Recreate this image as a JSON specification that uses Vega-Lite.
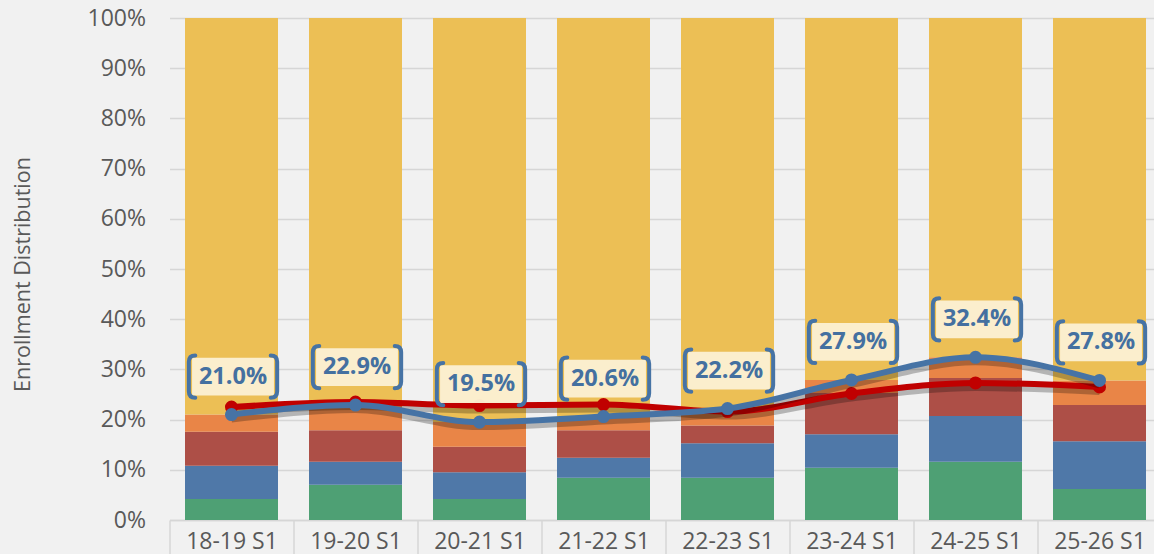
{
  "$schema": "https://vega.github.io/schema/vega-lite/v6.json",
  "width": 992,
  "height": 502,
  "autosize": {"type": "none"},
  "padding": {"left": 169.5, "top": 18, "right": 0, "bottom": 34},
  "background": "#f1f1f1",
  "config": {"view": {"stroke": null}, "font": "Open Sans"},
  "datasets": {
    "bars": [
      {"term": "18-19 S1", "segment": "A", "ord": 1, "value": 0.042},
      {"term": "18-19 S1", "segment": "B", "ord": 2, "value": 0.066},
      {"term": "18-19 S1", "segment": "C", "ord": 3, "value": 0.068},
      {"term": "18-19 S1", "segment": "D", "ord": 4, "value": 0.034},
      {"term": "18-19 S1", "segment": "E", "ord": 5, "value": 0.790},
      {"term": "19-20 S1", "segment": "A", "ord": 1, "value": 0.070},
      {"term": "19-20 S1", "segment": "B", "ord": 2, "value": 0.046},
      {"term": "19-20 S1", "segment": "C", "ord": 3, "value": 0.063},
      {"term": "19-20 S1", "segment": "D", "ord": 4, "value": 0.050},
      {"term": "19-20 S1", "segment": "E", "ord": 5, "value": 0.771},
      {"term": "20-21 S1", "segment": "A", "ord": 1, "value": 0.042},
      {"term": "20-21 S1", "segment": "B", "ord": 2, "value": 0.053},
      {"term": "20-21 S1", "segment": "C", "ord": 3, "value": 0.051},
      {"term": "20-21 S1", "segment": "D", "ord": 4, "value": 0.049},
      {"term": "20-21 S1", "segment": "E", "ord": 5, "value": 0.805},
      {"term": "21-22 S1", "segment": "A", "ord": 1, "value": 0.084},
      {"term": "21-22 S1", "segment": "B", "ord": 2, "value": 0.040},
      {"term": "21-22 S1", "segment": "C", "ord": 3, "value": 0.055},
      {"term": "21-22 S1", "segment": "D", "ord": 4, "value": 0.027},
      {"term": "21-22 S1", "segment": "E", "ord": 5, "value": 0.794},
      {"term": "22-23 S1", "segment": "A", "ord": 1, "value": 0.084},
      {"term": "22-23 S1", "segment": "B", "ord": 2, "value": 0.069},
      {"term": "22-23 S1", "segment": "C", "ord": 3, "value": 0.035},
      {"term": "22-23 S1", "segment": "D", "ord": 4, "value": 0.034},
      {"term": "22-23 S1", "segment": "E", "ord": 5, "value": 0.778},
      {"term": "23-24 S1", "segment": "A", "ord": 1, "value": 0.104},
      {"term": "23-24 S1", "segment": "B", "ord": 2, "value": 0.067},
      {"term": "23-24 S1", "segment": "C", "ord": 3, "value": 0.082},
      {"term": "23-24 S1", "segment": "D", "ord": 4, "value": 0.026},
      {"term": "23-24 S1", "segment": "E", "ord": 5, "value": 0.721},
      {"term": "24-25 S1", "segment": "A", "ord": 1, "value": 0.116},
      {"term": "24-25 S1", "segment": "B", "ord": 2, "value": 0.091},
      {"term": "24-25 S1", "segment": "C", "ord": 3, "value": 0.076},
      {"term": "24-25 S1", "segment": "D", "ord": 4, "value": 0.041},
      {"term": "24-25 S1", "segment": "E", "ord": 5, "value": 0.676},
      {"term": "25-26 S1", "segment": "A", "ord": 1, "value": 0.062},
      {"term": "25-26 S1", "segment": "B", "ord": 2, "value": 0.095},
      {"term": "25-26 S1", "segment": "C", "ord": 3, "value": 0.072},
      {"term": "25-26 S1", "segment": "D", "ord": 4, "value": 0.049},
      {"term": "25-26 S1", "segment": "E", "ord": 5, "value": 0.722}
    ],
    "lines": [
      {"term": "18-19 S1", "total": 0.210, "red": 0.225},
      {"term": "19-20 S1", "total": 0.229, "red": 0.235},
      {"term": "20-21 S1", "total": 0.195, "red": 0.228},
      {"term": "21-22 S1", "total": 0.206, "red": 0.230},
      {"term": "22-23 S1", "total": 0.222, "red": 0.216},
      {"term": "23-24 S1", "total": 0.279, "red": 0.252},
      {"term": "24-25 S1", "total": 0.324, "red": 0.273},
      {"term": "25-26 S1", "total": 0.278, "red": 0.265}
    ]
  },
  "encoding": {
    "x": {
      "field": "term", "type": "nominal", "sort": null,
      "scale": {"type": "band", "paddingInner": 0, "paddingOuter": 0},
      "axis": {
        "title": null, "labelAngle": 0, "labelFontSize": 23, "labelColor": "#595959",
        "domainColor": "#d6d6d6", "domainWidth": 1.5, "tickColor": "#d6d6d6", "tickWidth": 1.5,
        "tickBand": "extent", "tickSize": 34, "labelPadding": -6, "labelBaseline": "alphabetic"
      }
    }
  },
  "layer": [
    {
      "data": {"name": "bars"},
      "mark": {"type": "bar", "width": {"band": 0.75}},
      "encoding": {
        "y": {
          "field": "value", "type": "quantitative", "stack": "zero",
          "scale": {"domain": [0, 1]},
          "axis": {
            "title": "Enrollment Distribution", "titleFontSize": 21.5, "titleFontWeight": "normal",
            "titleColor": "#595959", "titleAngle": -90, "titleAlign": "center", "titleBaseline": "middle",
            "titleX": -146, "titleY": 256,
            "values": [0, 0.1, 0.2, 0.3, 0.4, 0.5, 0.6, 0.7, 0.8, 0.9, 1],
            "format": ".0%", "labelFontSize": 23, "labelColor": "#595959", "labelPadding": 24,
            "domain": false, "ticks": false, "grid": true, "gridColor": "#d6d6d6", "gridWidth": 1.5
          }
        },
        "color": {
          "field": "segment", "type": "nominal", "legend": null,
          "scale": {"domain": ["A", "B", "C", "D", "E"],
                    "range": ["#4ea074", "#4f78a8", "#ad4f47", "#e98547", "#ecbf55"]}
        },
        "order": {"field": "ord", "type": "quantitative", "sort": "ascending"}
      }
    },
    {
      "data": {"name": "lines"},
      "mark": {"type": "line", "interpolate": "monotone", "color": "#000000", "opacity": 0.25, "strokeWidth": 8, "yOffset": 4},
      "encoding": {"y": {"field": "red", "type": "quantitative"}}
    },
    {
      "data": {"name": "lines"},
      "mark": {"type": "line", "interpolate": "monotone", "color": "#c00000", "strokeWidth": 6,
               "point": {"filled": true, "size": 170, "color": "#c00000", "opacity": 1}},
      "encoding": {"y": {"field": "red", "type": "quantitative"}}
    },
    {
      "data": {"name": "lines"},
      "mark": {"type": "line", "interpolate": "monotone", "color": "#000000", "opacity": 0.25, "strokeWidth": 8, "yOffset": 4},
      "encoding": {"y": {"field": "total", "type": "quantitative"}}
    },
    {
      "data": {"name": "lines"},
      "mark": {"type": "line", "interpolate": "monotone", "color": "#4673a5", "strokeWidth": 6,
               "point": {"filled": true, "size": 170, "color": "#4673a5", "opacity": 1}},
      "encoding": {"y": {"field": "total", "type": "quantitative"}}
    },
    {
      "data": {"name": "lines"},
      "mark": {"type": "point", "shape": "M-0.89,-0.41 L0.89,-0.41 L0.89,0.41 L-0.89,0.41 Z",
               "size": 8464, "filled": true, "color": "#fbf0d2", "opacity": 0.97, "strokeWidth": 0, "yOffset": -38, "xOffset": 1.5},
      "encoding": {"y": {"field": "total", "type": "quantitative"}}
    },
    {
      "data": {"name": "lines"},
      "mark": {"type": "point",
               "shape": "M-0.82,-0.46 Q-0.96,-0.46 -0.96,-0.32 L-0.96,0.32 Q-0.96,0.46 -0.82,0.46 M0.82,-0.46 Q0.96,-0.46 0.96,-0.32 L0.96,0.32 Q0.96,0.46 0.82,0.46",
               "size": 8464, "filled": false, "color": "#4673a5", "opacity": 1, "strokeWidth": 4, "strokeCap": "round",
               "yOffset": -38, "xOffset": 1.5},
      "encoding": {"y": {"field": "total", "type": "quantitative"}}
    },
    {
      "data": {"name": "lines"},
      "mark": {"type": "text", "fontSize": 23.5, "fontWeight": "bold", "color": "#4470a0", "baseline": "middle",
               "align": "center", "yOffset": -38, "xOffset": 1.5},
      "encoding": {
        "y": {"field": "total", "type": "quantitative"},
        "text": {"field": "total", "type": "quantitative", "format": ".1%"}
      }
    }
  ]
}
